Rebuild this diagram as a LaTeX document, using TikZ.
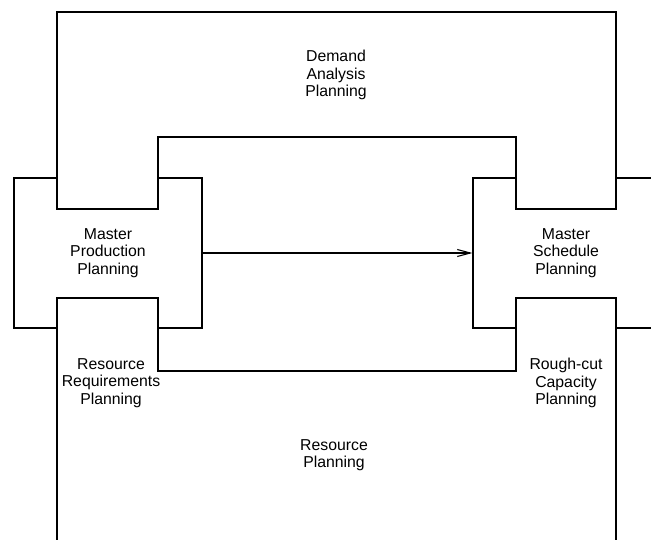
\documentclass[tikz,border=0pt]{standalone}
\usepackage{fontspec}
\setmainfont{Liberation Sans}
\usetikzlibrary{arrows.meta}
\begin{document}
\begin{tikzpicture}[x=1pt,y=-1pt,
  line width=1.2pt, line join=miter,
  txt/.style={font=\fontsize{15.8}{17.3}\selectfont, align=center, inner sep=0pt},
  lbl/.style={txt},
  stage/.style={txt, draw, rectangle}]
  % page area; the right-hand box and the lower region run off its edges
  \clip (0,0) rectangle (651,539);
  \fill[white] (0,0) rectangle (651,539);

  % the two central planning boxes
  \node[stage, minimum width=188pt, minimum height=150pt] (mpp) at (108,253)
    {Master\\Production\\Planning};
  \node[stage, minimum width=186pt, minimum height=150pt] (msp) at (566,253)
    {Master\\Schedule\\Planning};

  % upper region: demand analysis, an arch over both boxes
  \draw[fill=white] (57,209) -- (57,12) -- (616,12) -- (616,209) -- (516,209)
    -- (516,137) -- (158,137) -- (158,209) -- cycle;
  \node[lbl] (dap) at (336,75) {Demand\\Analysis\\Planning};

  % lower region: resource planning, an inverted arch under both boxes
  \draw[fill=white] (57,570) -- (57,298) -- (158,298) -- (158,371) -- (516,371)
    -- (516,298) -- (616,298) -- (616,570) -- cycle;
  \node[lbl] (rrp) at (111,383) {Resource\\Requirements\\Planning};
  \node[lbl] (rcp) at (566,383) {Rough-cut\\Capacity\\Planning};
  \node[lbl] (rp)  at (334,455) {Resource\\Planning};

  % flow from production planning to schedule planning
  \draw[-{Straight Barb[length=13pt, width=7pt, line width=1.1pt]}] (mpp.east) -- (msp.west);
\end{tikzpicture}
\end{document}
